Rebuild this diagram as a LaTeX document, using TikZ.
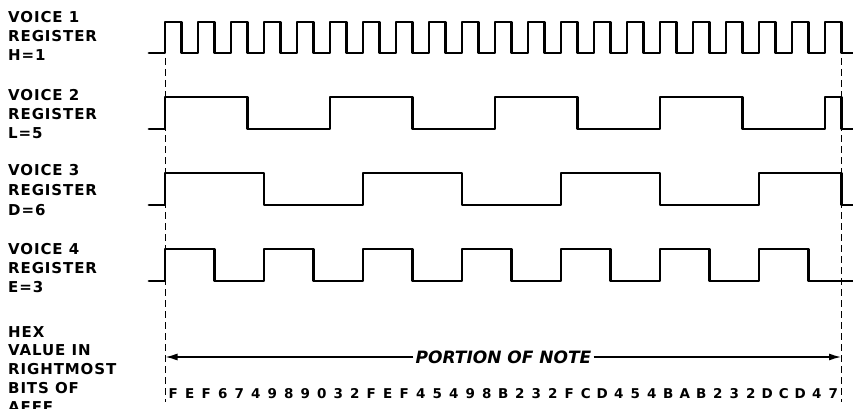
\documentclass[tikz,border=0pt]{standalone}
\usepackage{fontspec}
\setmainfont{DejaVu Sans}
\newfontfamily\lblfont[LetterSpace=6]{DejaVu Sans}
\newfontfamily\portfont{DejaVu Sans}
\usetikzlibrary{arrows.meta}
\newcommand\wavedraw[4]{%
  \draw[wave] (149,#3) -- (165,#3)
  \foreach \k [evaluate=\k as \lev using {mod(\k,2)==0?#2:#3},
               evaluate=\k as \xa using {165+16.5*\k*#1},
               evaluate=\k as \xb using {165+16.5*min((\k+1)*#1,41)}] in {0,...,#4}
    { -- (\xa,\lev) -- (\xb,\lev) }
  -- (841.5,#3) -- (853,#3);}
\begin{document}
\begin{tikzpicture}[x=1pt,y=-1pt,
  wave/.style={line width=2.8pt, line join=round, line cap=round},
  guide/.style={line width=1pt, dash pattern=on 7pt off 4pt},
  lbl/.style={anchor=base west, inner sep=0pt, font=\lblfont\bfseries\fontsize{15}{15}\selectfont},
  hexd/.style={anchor=base, inner sep=0pt, font=\lblfont\bfseries\fontsize{13.5}{13.5}\selectfont},
  port/.style={inner xsep=2pt, inner ysep=0pt, font=\portfont\bfseries\itshape\fontsize{17}{17}\selectfont},
  arr/.style={line width=1.3pt, -{Latex[length=12pt,width=7pt]}}]
\useasboundingbox (0,0) rectangle (853,409);

% labels
\node[lbl] (v1a) at (8,23) {VOICE 1};
\node[lbl] (v1b) at (8,42) {REGISTER};
\node[lbl] (v1c) at (8,61) {H=1};
\node[lbl] (v2a) at (8,101) {VOICE 2};
\node[lbl] (v2b) at (8,120) {REGISTER};
\node[lbl] (v2c) at (8,139) {L=5};
\node[lbl] (v3a) at (8,175) {VOICE 3};
\node[lbl] (v3b) at (8,195) {REGISTER};
\node[lbl] (v3c) at (8,215) {D=6};
\node[lbl] (v4a) at (8,254) {VOICE 4};
\node[lbl] (v4b) at (8,273) {REGISTER};
\node[lbl] (v4c) at (8,292) {E=3};
\node[lbl] (hxa) at (8,337) {HEX};
\node[lbl] (hxb) at (8,355) {VALUE IN};
\node[lbl] (hxc) at (8,374) {RIGHTMOST};
\node[lbl] (hxd) at (8,393) {BITS OF};
\node[lbl] (hxe) at (8,412) {AFFF.};

% waveforms
\wavedraw{1}{22}{53}{40}
\wavedraw{5}{97}{129}{8}
\wavedraw{6}{173}{205}{6}
\wavedraw{3}{249}{281}{13}

% guide lines
\coordinate (gLt) at (165,58);
\coordinate (gLb) at (165,402);
\coordinate (gRt) at (841.5,58);
\coordinate (gRb) at (841.5,402);
\draw[guide] (gLt) -- (gLb);
\draw[guide] (gRt) -- (gRb);

% portion of note
\node[port] (pon) at (503.5,357) {PORTION OF NOTE};
\coordinate (aL) at (165.5,357);
\coordinate (aR) at (841,357);
\draw[arr] (pon.west) -- (aL);
\draw[arr] (pon.east) -- (aR);

% hex digits
\foreach \d [count=\i from 0] in {F,E,F,6,7,4,9,8,9,0,3,2,F,E,F,4,5,4,9,8,B,2,3,2,F,C,D,4,5,4,B,A,B,2,3,2,D,C,D,4,7}
  \node[hexd] (h\i) at ({165+16.5*(\i+0.5)},398) {\d};
\end{tikzpicture}
\end{document}
